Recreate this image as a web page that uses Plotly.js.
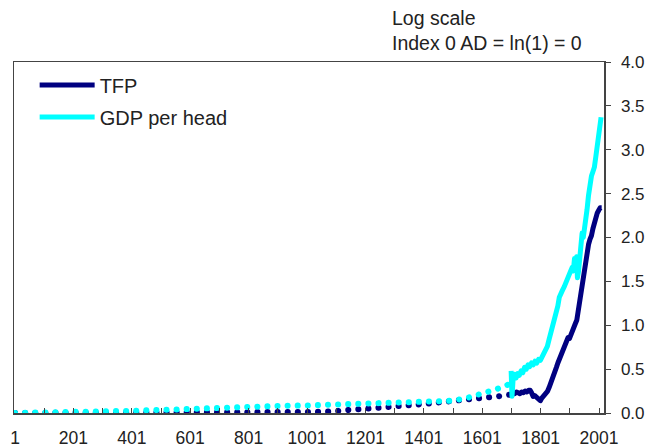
<!DOCTYPE html>
<html>
<head>
<meta charset="utf-8">
<script src="https://cdn.plot.ly/plotly-3.0.1.min.js"></script>
<style>
  html, body { margin: 0; padding: 0; background: #fff; }
  #chart { width: 655px; height: 448px; }
</style>
</head>
<body>
<div id="chart"></div>
<script>
// ---- Data ----
// Early (dotted) estimates, years 1 AD - 1700
const tfpEarlyYears = [1, 100, 200, 300, 400, 500, 600, 700, 800, 900, 1000, 1050, 1100, 1150, 1200, 1250, 1300, 1350, 1400, 1450, 1500, 1550, 1600, 1650, 1700];
const tfpEarlyVals  = [0, 0, 0, 0, 0, 0, 0, 0, 0, 0, 0.003, 0.013, 0.022, 0.032, 0.043, 0.052, 0.07, 0.088, 0.103, 0.117, 0.132, 0.148, 0.166, 0.188, 0.21];

const gdpEarlyYears = [1, 100, 200, 300, 400, 500, 600, 700, 800, 900, 1000, 1100, 1200, 1300, 1400, 1450, 1500, 1550, 1600, 1650, 1695];
const gdpEarlyVals  = [0, 0.003, 0.011, 0.017, 0.025, 0.035, 0.05, 0.064, 0.074, 0.08, 0.086, 0.099, 0.109, 0.12, 0.128, 0.128, 0.14, 0.172, 0.218, 0.272, 0.33];

// Annual-type (solid) series, 1700 onwards
const tfpYears = [1700, 1706, 1712, 1718, 1724, 1730, 1736, 1742, 1748, 1754, 1760, 1765, 1770, 1775, 1780, 1785, 1790, 1795, 1800, 1805, 1810, 1815, 1820, 1825, 1830, 1835, 1840, 1845, 1850, 1855, 1860, 1865, 1870, 1875, 1880, 1885, 1890, 1895, 1900, 1905, 1910, 1915, 1920, 1925, 1930, 1935, 1940, 1945, 1950, 1955, 1960, 1965, 1970, 1975, 1980, 1985, 1990, 1995, 2000, 2005, 2010];
const tfpVals  = [0.21, 0.23, 0.22, 0.24, 0.23, 0.22, 0.24, 0.23, 0.25, 0.24, 0.26, 0.26, 0.23, 0.19, 0.20, 0.18, 0.17, 0.15, 0.14, 0.17, 0.19, 0.20, 0.22, 0.25, 0.29, 0.33, 0.37, 0.42, 0.47, 0.52, 0.57, 0.61, 0.65, 0.70, 0.74, 0.78, 0.82, 0.86, 0.85, 0.90, 0.96, 0.98, 1.02, 1.06, 1.18, 1.28, 1.38, 1.50, 1.58, 1.68, 1.82, 1.92, 1.98, 2.02, 2.10, 2.17, 2.22, 2.28, 2.31, 2.34, 2.34];

const gdpYears = [1700, 1703, 1707, 1712, 1717, 1722, 1728, 1734, 1740, 1746, 1752, 1758, 1764, 1770, 1776, 1782, 1788, 1794, 1800, 1806, 1812, 1818, 1824, 1830, 1836, 1842, 1848, 1854, 1860, 1865, 1870, 1876, 1882, 1888, 1894, 1899, 1904, 1909, 1913, 1917, 1921, 1924, 1927, 1931, 1935, 1939, 1943, 1947, 1951, 1955, 1960, 1965, 1970, 1975, 1980, 1985, 1990, 1995, 2000, 2004, 2008];
const gdpVals  = [0.48, 0.19, 0.40, 0.44, 0.40, 0.45, 0.43, 0.48, 0.46, 0.52, 0.50, 0.55, 0.53, 0.57, 0.55, 0.59, 0.57, 0.61, 0.60, 0.64, 0.68, 0.72, 0.76, 0.84, 0.92, 0.98, 1.03, 1.12, 1.22, 1.32, 1.37, 1.40, 1.44, 1.50, 1.56, 1.58, 1.62, 1.66, 1.62, 1.76, 1.72, 1.78, 1.54, 1.62, 1.76, 1.88, 2.05, 2.00, 2.08, 2.18, 2.32, 2.48, 2.64, 2.70, 2.75, 2.80, 2.92, 3.04, 3.15, 3.26, 3.37];

const seriesNames = ['TFP', 'GDP per head'];
const xTickVals = [1, 201, 401, 601, 801, 1001, 1201, 1401, 1601, 1801, 2001];
const yTickVals = [0, 0.5, 1, 1.5, 2, 2.5, 3, 3.5, 4];
const yTickText = ['0.0', '0.5', '1.0', '1.5', '2.0', '2.5', '3.0', '3.5', '4.0'];
const noteLines = ['Log scale', 'Index 0 AD = ln(1) = 0'];

// ---- Styles ----
const NAVY = '#000080';
const CYAN = '#00FFFF';
const FONT = 'Liberation Sans, Arial, sans-serif';
const AXIS = '#444444';

const traces = [
  { x: tfpEarlyYears, y: tfpEarlyVals, mode: 'lines', name: seriesNames[0], legendgroup: 'tfp', showlegend: false,
    line: { color: NAVY, width: 6, dash: '0.1px,10px' }, hoverinfo: 'skip' },
  { x: gdpEarlyYears, y: gdpEarlyVals, mode: 'lines', name: seriesNames[1], legendgroup: 'gdp', showlegend: false,
    line: { color: CYAN, width: 6, dash: '0.1px,10px' }, hoverinfo: 'skip' },
  { x: tfpYears, y: tfpVals, mode: 'lines', name: seriesNames[0], legendgroup: 'tfp',
    line: { color: NAVY, width: 5 } },
  { x: gdpYears, y: gdpVals, mode: 'lines', name: seriesNames[1], legendgroup: 'gdp',
    line: { color: CYAN, width: 5 } }
];

const layout = {
  width: 655, height: 448,
  margin: { l: 14, r: 51, t: 62, b: 35, pad: 0 },
  paper_bgcolor: '#ffffff', plot_bgcolor: '#ffffff',
  font: { family: FONT, size: 17, color: '#222222' },
  showlegend: true,
  legend: {
    x: 0.035, y: 0.99, xanchor: 'left', yanchor: 'top',
    bgcolor: 'rgba(0,0,0,0)', borderwidth: 0,
    font: { family: FONT, size: 20, color: '#222222' },
    tracegroupgap: 3, traceorder: 'grouped',
    itemwidth: 55
  },
  xaxis: {
    range: [-2.4, 2018],
    tickmode: 'array', tickvals: xTickVals, ticktext: xTickVals.map(String),
    ticks: 'inside', ticklen: 5, tickwidth: 1, tickcolor: AXIS,
    minor: { tickmode: 'linear', tick0: 1, dtick: 100, ticks: 'inside', ticklen: 5, tickcolor: AXIS, showgrid: false },
    showline: true, linecolor: AXIS, linewidth: 1.5, mirror: true,
    showgrid: false, zeroline: false,
    tickfont: { family: FONT, size: 17.5, color: '#222222' },
    ticklabelstandoff: 8
  },
  yaxis: {
    side: 'right',
    range: [0, 4],
    tickmode: 'array', tickvals: yTickVals, ticktext: yTickText,
    ticks: 'outside', ticklen: 5, tickwidth: 1, tickcolor: AXIS,
    showline: true, linecolor: AXIS, linewidth: 1.5, mirror: true,
    showgrid: false, zeroline: false,
    tickfont: { family: FONT, size: 17, color: '#222222' },
    ticklabelstandoff: 7
  },
  annotations: [{
    xref: 'paper', yref: 'paper', x: 0.637, y: 1.016, xanchor: 'left', yanchor: 'bottom',
    align: 'left', showarrow: false,
    text: noteLines.join('<br>'),
    font: { family: FONT, size: 19.5, color: '#222222' }
  }]
};

Plotly.newPlot('chart', traces, layout, { staticPlot: true, displayModeBar: false }).then(function (gd) {
  // round dot caps for the dotted (early) segments, and let them overlap the axis line
  const groups = gd.querySelectorAll('.scatterlayer .trace');
  groups.forEach(function (g, i) {
    g.querySelectorAll('path.js-line').forEach(function (p) {
      if (i < 2) p.style.strokeLinecap = 'round';
      else p.style.strokeLinejoin = 'round';
    });
  });
  gd.querySelectorAll('.cartesianlayer .plot, .scatterlayer, .scatterlayer .trace, .scatterlayer path').forEach(function (el) {
    el.removeAttribute('clip-path');
  });
});
</script>
</body>
</html>
